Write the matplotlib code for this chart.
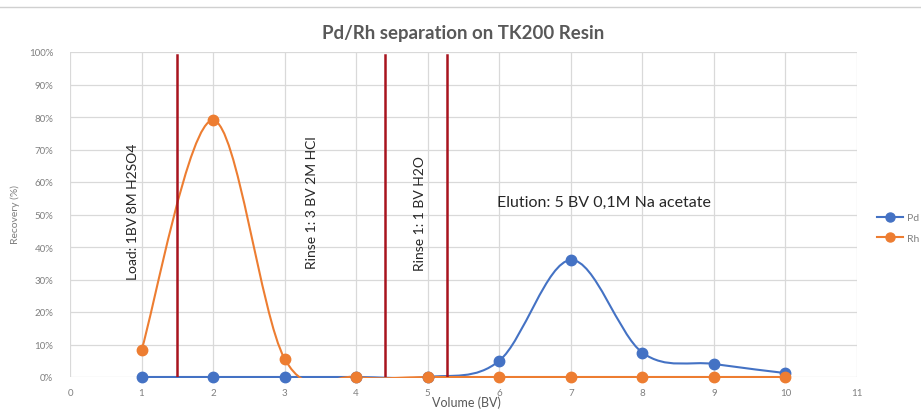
import numpy as np
import matplotlib
matplotlib.use('Agg')
import matplotlib.pyplot as plt
from matplotlib.path import Path
from matplotlib.patches import PathPatch, Rectangle
from matplotlib.lines import Line2D

plt.rcParams['font.family'] = ['Lato', 'DejaVu Sans']

# data
volume = [1, 2, 3, 4, 5, 6, 7, 8, 9, 10]
pd_rec = [0.0, 0.0, 0.0, 0.0, 0.0, 0.05, 0.36, 0.075, 0.04, 0.012]
rh_rec = [0.083, 0.79, 0.056, 0.0, 0.0, 0.0, 0.0, 0.0, 0.0, 0.0]
step_lines = [1.5, 4.4, 5.27]
step_labels = ['Load: 1BV 8M H2SO4', 'Rinse 1: 3 BV 2M HCl', 'Rinse 1: 1 BV H2O']
step_label_x = [0.88, 3.38, 4.89]
step_label_y = [0.30, 0.335, 0.33]
elution_label = 'Elution: 5 BV 0,1M Na acetate'

PD_COL = '#4472C4'
RH_COL = '#ED7D31'
GRID = '#D9D9D9'
TICK = '#7F7F7F'


def smooth_path(x, y):
    """Excel-like smoothed line as cubic bezier segments through the points"""
    n = len(x)
    verts = [(x[0], y[0])]
    codes = [Path.MOVETO]
    for i in range(n - 1):
        a = max(i - 1, 0)
        b = min(i + 2, n - 1)
        c1 = (x[i] + (x[i + 1] - x[a]) / 6.0, y[i] + (y[i + 1] - y[a]) / 6.0)
        c2 = (x[i + 1] - (x[b] - x[i]) / 6.0, y[i + 1] - (y[b] - y[i]) / 6.0)
        verts += [c1, c2, (x[i + 1], y[i + 1])]
        codes += [Path.CURVE4] * 3
    return Path(verts, codes)


fig = plt.figure(figsize=(9.21, 4.10), dpi=100)
ax = fig.add_axes([70 / 921, 1 - 378 / 410, 787 / 921, 325 / 410])

for vals, col in [(pd_rec, PD_COL), (rh_rec, RH_COL)]:
    patch = PathPatch(smooth_path(volume, vals), fill=False, edgecolor=col, lw=1.5, zorder=3)
    ax.add_patch(patch)
    # keep the zero line visible but cut the overshoot below it
    patch.set_clip_path(Rectangle((0, -0.004), 11, 1.01, transform=ax.transData))
    ax.plot(volume, vals, 'o', color=col, ms=7.5, zorder=4, clip_on=False)

for xv in step_lines:
    ax.plot([xv, xv], [0, 0.99], color='#A8141E', lw=1.8, zorder=5)

for lab, xv, yv in zip(step_labels, step_label_x, step_label_y):
    ax.text(xv, yv, lab, rotation=90, ha='center', va='bottom', fontsize=10, color='#262626', zorder=6)
ax.text(5.97, 0.54, elution_label, ha='left', va='center', fontsize=11.5, color='#262626')

ax.set_xlim(0, 11)
ax.set_ylim(0, 1)
ax.set_xticks(range(0, 12))
ax.set_yticks(np.arange(0, 1.01, 0.1))
ax.set_yticklabels([f'{int(round(v * 100))}%' for v in np.arange(0, 1.01, 0.1)])
ax.grid(True, color=GRID, lw=0.9)
ax.set_axisbelow(True)
for s in ax.spines.values():
    s.set_visible(False)
ax.tick_params(length=0, labelsize=7, labelcolor=TICK, pad=8)
ax.tick_params(axis='y', pad=12)

ax.set_title('Pd/Rh separation on TK200 Resin', fontsize=13.4, fontweight='bold', color='#595959', pad=10)
fig.text(466 / 921, 1 - 403 / 410, 'Volume (BV)', ha='center', va='center', fontsize=9, color='#595959')
fig.text(15 / 921, 1 - 215 / 410, 'Recovery (%)', ha='center', va='center', rotation=90, fontsize=7.5, color=TICK)

handles = [Line2D([], [], color=PD_COL, marker='o', ms=6.5, lw=1.5),
           Line2D([], [], color=RH_COL, marker='o', ms=6.5, lw=1.5)]
fig.legend(handles, ['Pd', 'Rh'], loc='center left', bbox_to_anchor=(868 / 921, 1 - 229 / 410),
           frameon=False, fontsize=7.5, labelcolor=TICK, handlelength=2.5, handletextpad=0.3, labelspacing=1.1)

fig.add_artist(Line2D([0, 1], [1 - 8 / 410, 1 - 8 / 410], color='#D0D0D0', lw=1))

fig.savefig('out.png', dpi=100)
